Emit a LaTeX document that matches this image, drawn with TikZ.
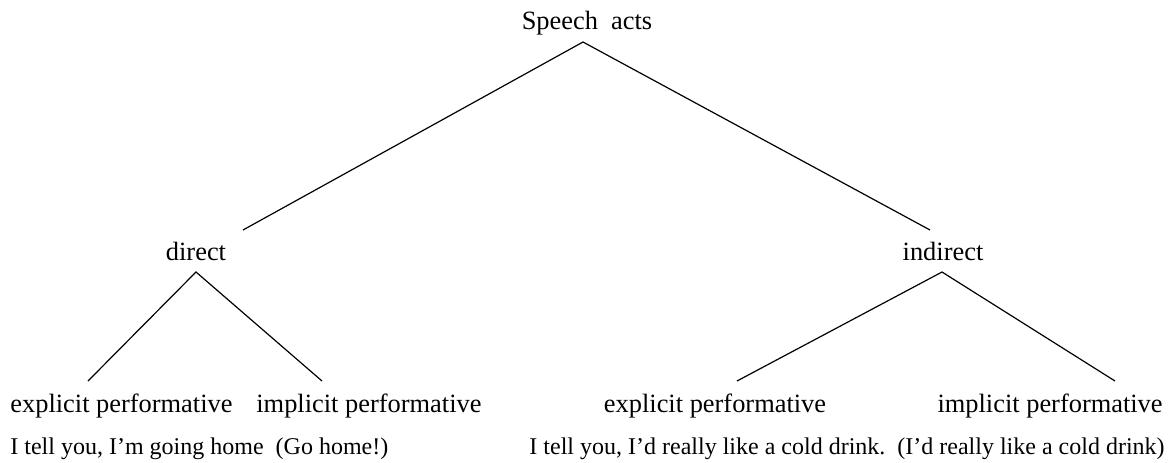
\documentclass[tikz,border=0pt]{standalone}
\usepackage{fontspec}
\setmainfont{Liberation Serif}
\usepackage{tikz}
\tikzset{lbl/.style={inner sep=0pt,anchor=base,font=\fontsize{13.2}{16}\selectfont},
        ex/.style={inner sep=0pt,anchor=base west,font=\fontsize{12}{14}\selectfont},
        branch/.style={line width=0.6pt,line join=miter}}
\begin{document}
\begin{tikzpicture}[x=0.5pt,y=-0.5pt] % Speech act tree
        \useasboundingbox (0,0) rectangle (1172,462);
        \node[lbl] (root) at (587,29) {Speech\ \ acts};
        \node[lbl] (direct) at (196,260) {direct};
        \node[lbl] (indirect) at (943,260) {indirect};
        \node[lbl,anchor=base west] (dexp) at (10,412) {explicit performative};
        \node[lbl,anchor=base west] (dimp) at (256,412) {implicit performative};
        \node[lbl] (iexp) at (715,412) {explicit performative};
        \node[lbl,anchor=base east] (iimp) at (1163,412) {implicit performative};
        \node[ex] (dex) at (10,454) {I tell you, I’m going home\ \ (Go home!)};
        \node[ex,anchor=base east] (iex) at (1165,454) {I tell you, I’d really like a cold drink.\ \ (I’d really like a cold drink)};
        % apexes and free ends
        \coordinate (rtop) at (583,42);
        \coordinate (dtop) at (196,272);
        \coordinate (itop) at (942,272);
        \draw[branch] (243,230) coordinate (rl) -- (rtop) -- (930,230) coordinate (rr);
        \draw[branch] (88,381) coordinate (dl) -- (dtop) -- (322,381) coordinate (dr);
        \draw[branch] (737,381) coordinate (il) -- (itop) -- (1115,381) coordinate (ir);
\end{tikzpicture}
\end{document}
